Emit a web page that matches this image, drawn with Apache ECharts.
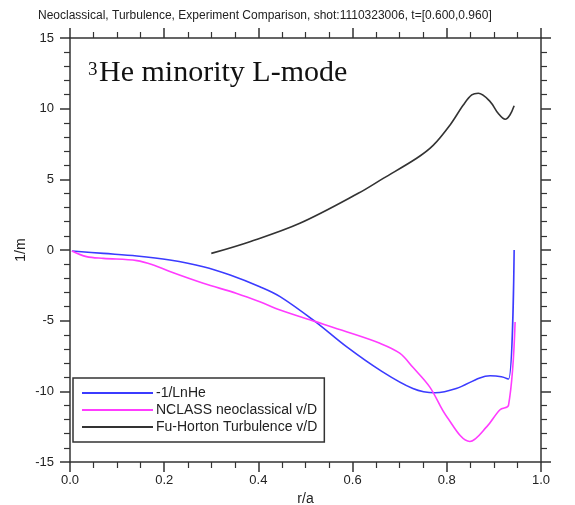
<!DOCTYPE html>
<html>
<head>
<meta charset="utf-8">
<script src="https://cdn.jsdelivr.net/npm/echarts@6/dist/echarts.min.js"></script>
<style>html,body{margin:0;padding:0;background:#fff}#c{width:575px;height:505px}</style>
</head>
<body>
<div id="c"></div>
<script>
// r/a and values for each series
var rBlue = [0.004,0.071,0.142,0.212,0.283,0.34,0.403,0.446,0.52,0.587,0.658,0.728,0.775,0.82,0.87,0.892,0.916,0.931,0.943];
var vBlue = [-0.07,-0.24,-0.42,-0.71,-1.18,-1.77,-2.6,-3.3,-5.05,-6.84,-8.5,-9.8,-10.1,-9.8,-9.05,-8.9,-8.97,-9.13,0.0];
var rMag = [0.004,0.035,0.071,0.142,0.177,0.212,0.283,0.354,0.403,0.446,0.52,0.587,0.658,0.70,0.728,0.764,0.80,0.849,0.885,0.913,0.931,0.945];
var vMag = [-0.07,-0.47,-0.59,-0.75,-1.06,-1.53,-2.36,-3.07,-3.66,-4.25,-5.05,-5.78,-6.6,-7.3,-8.3,-9.7,-11.8,-13.55,-12.5,-11.3,-11.0,-5.1];
var rBlk = [0.30,0.382,0.488,0.612,0.665,0.736,0.771,0.807,0.835,0.853,0.867,0.892,0.909,0.924,0.934,0.943];
var vBlk = [-0.24,0.59,1.89,4.01,5.07,6.49,7.4,8.85,10.26,10.97,11.09,10.5,9.67,9.25,9.55,10.2];
var seriesNames = ['-1/LnHe','NCLASS neoclassical v/D','Fu-Horton Turbulence v/D'];
var xTicks = ['0.0','0.2','0.4','0.6','0.8','1.0'];

function pairs(xs, ys){ return xs.map(function(x,i){ return [x, ys[i]]; }); }

var axisColor = '#333';
var font = 'Liberation Sans, Arial, Helvetica, sans-serif';
function baseAxis(extra){
  var a = {
    axisLine:{show:true, onZero:false, lineStyle:{color:axisColor, width:1.5}},
    axisTick:{show:true, inside:false, length:10, lineStyle:{color:axisColor, width:1.5}},
    minorTick:{show:true, length:6, lineStyle:{color:axisColor, width:1.2}},
    splitLine:{show:false},
    minorSplitLine:{show:false}
  };
  for (var k in extra) a[k] = extra[k];
  return a;
}

var chart = echarts.init(document.getElementById('c'), null, {renderer:'canvas'});
chart.setOption({
  backgroundColor:'#fff',
  animation:false,
  title:{
    text:'Neoclassical, Turbulence, Experiment Comparison, shot:1110323006, t=[0.600,0.960]',
    left:33, top:5,
    textStyle:{fontFamily:font, fontSize:12, fontWeight:'normal', color:'#222'}
  },
  grid:{left:70, right:34, top:38, bottom:43, containLabel:false, outerBoundsMode:'none'},
  legend:{
    orient:'vertical', left:73, top:378,
    data:seriesNames,
    itemWidth:71, itemHeight:14, itemGap:3,
    padding:[8,7,8,8],
    borderColor:'#333', borderWidth:1.5,
    backgroundColor:'#fff',
    itemStyle:{opacity:0},
    textStyle:{fontFamily:font, fontSize:14, color:'#222', padding:[0,0,0,-2]}
  },
  xAxis:[
    baseAxis({type:'value', position:'bottom', min:0, max:1, interval:0.2,
      minorTick:{show:true, splitNumber:4, length:6, lineStyle:{color:axisColor, width:1.2}},
      axisLabel:{margin:12, fontFamily:font, fontSize:13, color:'#222',
        formatter:function(v){ return xTicks[Math.round(v/0.2)]; }},
      name:'r/a', nameLocation:'middle', nameGap:30,
      nameTextStyle:{fontFamily:font, fontSize:14, color:'#222'}}),
    baseAxis({type:'value', position:'top', min:0, max:1, interval:0.2,
      minorTick:{show:true, splitNumber:4, length:6, lineStyle:{color:axisColor, width:1.2}},
      axisLabel:{show:false}})
  ],
  yAxis:[
    baseAxis({type:'value', position:'left', min:-15, max:15, interval:5,
      minorTick:{show:true, splitNumber:5, length:6, lineStyle:{color:axisColor, width:1.2}},
      axisLabel:{margin:16, fontFamily:font, fontSize:13, color:'#222'},
      name:'1/m', nameLocation:'middle', nameGap:42, nameRotate:90, nameMoveOverlap:false,
      nameTextStyle:{fontFamily:font, fontSize:14, color:'#222'}}),
    baseAxis({type:'value', position:'right', min:-15, max:15, interval:5,
      minorTick:{show:true, splitNumber:5, length:6, lineStyle:{color:axisColor, width:1.2}},
      axisLabel:{show:false}})
  ],
  graphic:[
    {type:'text', left:88, top:61, z:10,
      style:{text:'3', font:'19px "Liberation Serif", "DejaVu Serif", serif', fill:'#111'}},
    {type:'text', left:99, top:58, z:10,
      style:{text:'He minority L-mode', font:'30px "Liberation Serif", "DejaVu Serif", serif', fill:'#111'}}
  ],
  series:[
    {name:seriesNames[0], type:'line', data:pairs(rBlue,vBlue), symbol:'none', smooth:0.35,
      lineStyle:{color:'#3b3bff', width:1.6}, itemStyle:{color:'#3b3bff'}},
    {name:seriesNames[1], type:'line', data:pairs(rMag,vMag), symbol:'none', smooth:0.35,
      lineStyle:{color:'#ff3cff', width:1.6}, itemStyle:{color:'#ff3cff'}},
    {name:seriesNames[2], type:'line', data:pairs(rBlk,vBlk), symbol:'none', smooth:0.35,
      lineStyle:{color:'#333333', width:1.6}, itemStyle:{color:'#333333'}}
  ]
});
</script>
</body>
</html>
